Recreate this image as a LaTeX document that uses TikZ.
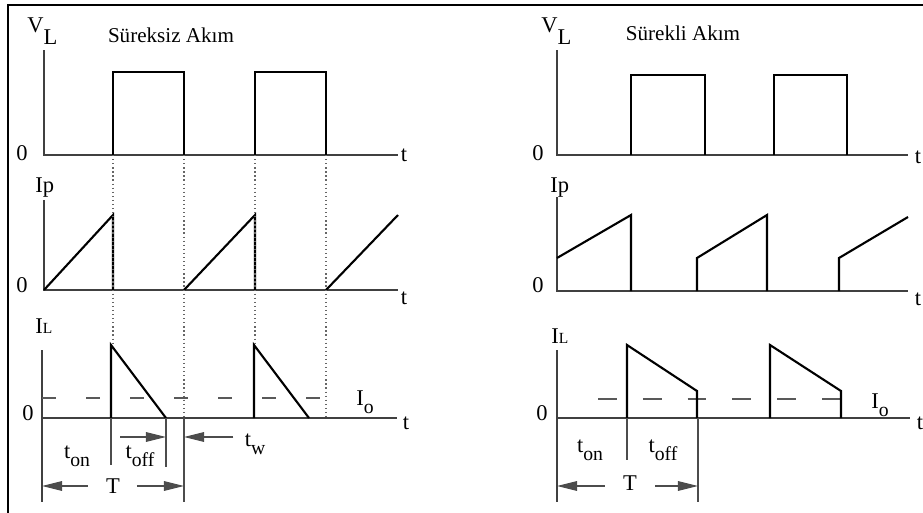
\documentclass[tikz,border=0pt]{standalone}
\usepackage{fontspec}
\setmainfont{Liberation Serif}
\usetikzlibrary{arrows.meta}

\newcommand{\lowsub}[1]{\raisebox{-0.35em}{\fontsize{14}{16}\selectfont #1}}

\begin{document}
\begin{tikzpicture}[
    x=0.025cm, y=-0.025cm,
    axis/.style={draw=black!75, line width=1pt},
    wave/.style={draw=black, line width=1.5pt},
    guide/.style={draw=black!60, line width=0.9pt, dotted},
    level/.style={draw=black!65, line width=1pt},
    dim/.style={draw=black!70, line width=0.8pt},
    dimarrow/.style={dim, -{Triangle[length=0.5cm, width=0.24cm]}},
    lbl/.style={font=\fontsize{16}{18}\selectfont, inner sep=0pt},
    title/.style={font=\fontsize{15}{17}\selectfont, inner sep=0pt}
]
    \useasboundingbox (0,0) rectangle (923,513);
    \draw[line width=1.5pt] (8,513) -- (8,5) -- (923,5);

    % Sureksiz akim
    \node[lbl, anchor=base west] (vlA) at (27,32) {V\raisebox{-0.3cm}{L}};
    \node[title] (titleA) at (171,35) {Süreksiz Akım};
    \node[lbl] (zeroA1) at (22,153) {0};
    \node[lbl] (tA1) at (404,155) {t};
    \draw[axis] (44,50) -- (44,155) -- (398,155);
    \draw[wave] (113,155) -- (113,72) -- (184,72) -- (184,155);
    \draw[wave] (255,155) -- (255,72) -- (326,72) -- (326,155);

    \node[lbl, anchor=base west] (ipA) at (35,192) {Ip};
    \node[lbl] (zeroA2) at (22,285) {0};
    \node[lbl] (tA2) at (404,298) {t};
    \draw[axis] (44,200) -- (44,290) -- (398,290);
    \draw[wave] (44,290) -- (113,215) -- (113,290);
    \draw[wave] (184,290) -- (255,215) -- (255,290);
    \draw[wave] (326,290) -- (398,215);

    \node[lbl, anchor=base west] (ilA) at (35,333) {I{\fontsize{11}{12}\selectfont L}};
    \node[lbl] (zeroA3) at (28,413) {0};
    \node[lbl] (tA3) at (406,423) {t};
    \node[lbl] (ioA) at (365,402) {I\lowsub{o}};
    \draw[axis] (42,350) -- (42,502);
    \draw[axis] (42,418) -- (397,418);
    \draw[level, dash pattern=on 0.35cm off 0.75cm] (42,398) -- (330,398);
    \draw[wave] (111,418) -- (111,345) -- (166,418);
    \draw[wave] (254,418) -- (254,345) -- (309,418);
    \foreach \x/\y in {113/345, 184/418, 255/345, 326/418}
        \draw[guide] (\x,155) -- (\x,\y);

    \draw[dim] (111,418) -- (111,465);
    \draw[dim] (166,418) -- (166,467);
    \draw[dim] (184,418) -- (184,502);
    \node[lbl] (tonA) at (77,456) {t\lowsub{on}};
    \node[lbl] (toffA) at (140,456) {t\lowsub{off}};
    \node[lbl] (twA) at (255,444) {t\lowsub{w}};
    \node[lbl] (TA) at (113,486) {T};
    \coordinate (offAs) at (120,437);
    \coordinate (offAe) at (166,437);
    \coordinate (twAe) at (184,437);
    \coordinate (TAl) at (42,486);
    \coordinate (TAr) at (184,486);
    \draw[dimarrow] (offAs) -- (offAe);
    \draw[dimarrow, shorten <=0.28cm] (twA.west |- twAe) -- (twAe);
    \draw[dimarrow, shorten <=0.45cm] (TA.west |- TAl) -- (TAl);
    \draw[dimarrow, shorten <=0.42cm] (TA.east |- TAr) -- (TAr);

    % Surekli akim
    \node[lbl, anchor=base west] (vlB) at (541,32) {V\raisebox{-0.3cm}{L}};
    \node[title] (titleB) at (683,33) {Sürekli Akım};
    \node[lbl] (zeroB1) at (538,153) {0};
    \node[lbl] (tB1) at (918,157) {t};
    \draw[axis] (557,50) -- (557,155) -- (908,155);
    \draw[wave] (631,155) -- (631,75) -- (705,75) -- (705,155);
    \draw[wave] (774,155) -- (774,75) -- (847,75) -- (847,155);

    \node[lbl, anchor=base west] (ipB) at (550,192) {Ip};
    \node[lbl] (zeroB2) at (538,285) {0};
    \node[lbl] (tB2) at (918,299) {t};
    \draw[axis] (557,197) -- (557,291) -- (908,291);
    \draw[wave] (557,258) -- (631,215) -- (631,291);
    \draw[wave] (697,291) -- (697,258) -- (767,215) -- (767,291);
    \draw[wave] (839,291) -- (839,258) -- (908,217);

    \node[lbl, anchor=base west] (ilB) at (551,343) {I{\fontsize{11}{12}\selectfont L}};
    \node[lbl] (zeroB3) at (542,413) {0};
    \node[lbl] (tB3) at (920,423) {t};
    \node[lbl] (ioB) at (880,405) {I\lowsub{o}};
    \draw[axis] (557,350) -- (557,502);
    \draw[axis] (557,418) -- (910,418);
    \draw[level, dash pattern=on 0.47cm off 0.65cm] (598,399) -- (842,399);
    \draw[wave] (627,418) -- (627,345) -- (697,391) -- (697,418);
    \draw[wave] (770,418) -- (770,345) -- (841,391) -- (841,418);

    \draw[dim] (627,418) -- (627,460);
    \draw[dim] (698,418) -- (698,502);
    \node[lbl] (tonB) at (590,450) {t\lowsub{on}};
    \node[lbl] (toffB) at (663,450) {t\lowsub{off}};
    \node[lbl] (TB) at (630,483) {T};
    \coordinate (TBl) at (557,486);
    \coordinate (TBr) at (698,486);
    \draw[dimarrow, shorten <=0.45cm] (TB.west |- TBl) -- (TBl);
    \draw[dimarrow, shorten <=0.45cm] (TB.east |- TBr) -- (TBr);
\end{tikzpicture}
\end{document}
